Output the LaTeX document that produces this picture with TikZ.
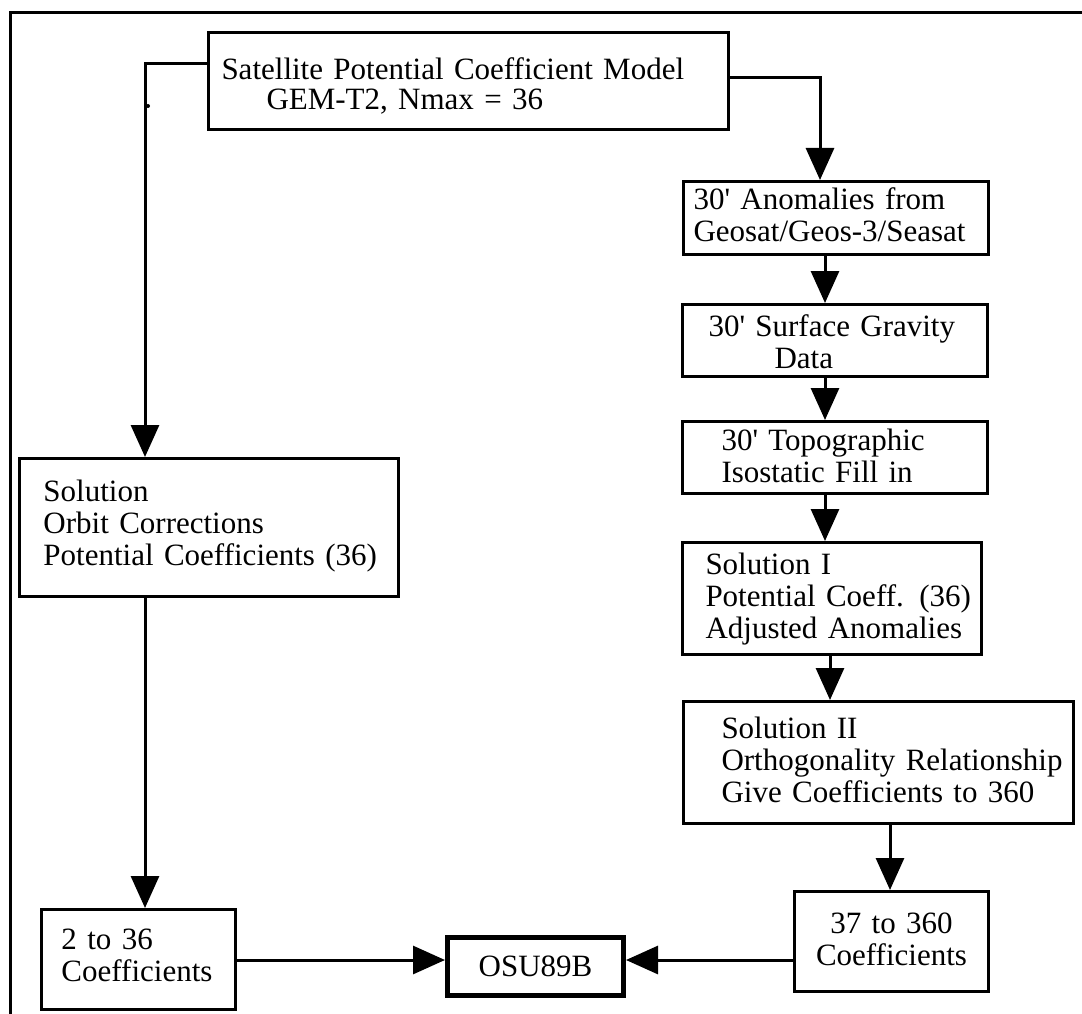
\documentclass[tikz,border=0pt]{standalone}
\usepackage{fontspec}
\setmainfont{Liberation Serif}
\usetikzlibrary{arrows.meta}
\newcommand\blkfont{\fontsize{31pt}{32pt}\selectfont}
\newcommand\topfont{\fontsize{31pt}{30pt}\selectfont}
\newcommand\amin{\textquotesingle}
\begin{document}
\begin{tikzpicture}[x=1pt,y=-1pt,
    blk/.style={draw,line width=3pt,anchor=north west,inner xsep=0pt,inner ysep=0pt,font=\blkfont,align=left},
    txtin/.style={execute at begin node={\leftskip=#1\relax}},
    arr/.style={line width=3pt,-{Triangle[length=32pt,width=28pt]}}]
  \useasboundingbox (0,0) rectangle (1082,1014);
  \draw[line width=3pt] (10,1014) -- (10,13) -- (1082,13);
  \fill (148,106) circle (2pt);
  % columns of the arrows
  \coordinate (colL) at (145,0);
  \coordinate (colT) at (820,0);
  \coordinate (colA) at (825,0);
  \coordinate (colB) at (830,0);
  \coordinate (colC) at (890,0);
  \coordinate (rowB) at (0,960);
  % top model
  \node[blk,font=\topfont,text width=520pt,text height=47pt,text depth=50pt,txtin=13pt] (sat) at (207,31)
    {Satellite Potential Coefficient Model\\\hspace*{45pt}GEM-T2, Nmax = 36};
  % right branch
  \node[blk,text width=305pt,text height=28pt,text depth=45pt,txtin=10pt] (anom) at (682,180)
    {30\amin{} Anomalies from\\Geosat/Geos-3/Seasat};
  \node[blk,text width=305pt,text height=32pt,text depth=40pt,txtin=26pt] (surf) at (681,303)
    {30\amin{} Surface Gravity\\\hspace*{66pt}Data};
  \node[blk,text width=305pt,text height=29pt,text depth=43pt,txtin=39pt] (topo) at (681,420)
    {30\amin{} Topographic\\Isostatic Fill in};
  \node[blk,text width=299pt,text height=32pt,text depth=80pt,txtin=23pt] (solI) at (681,541)
    {Solution I\\Potential Coeff. (36)\\Adjusted Anomalies};
  \node[blk,text width=390pt,text height=37pt,text depth=85pt,txtin=38pt] (solII) at (682,700)
    {Solution II\\Orthogonality Relationship\\Give Coefficients to 360};
  \node[blk,text width=194pt,text height=42pt,text depth=58pt,align=center] (hi) at (793,890)
    {37 to 360\\Coefficients};
  % left branch
  \node[blk,text width=379pt,text height=43pt,text depth=95pt,txtin=24pt] (sol) at (18,457)
    {Solution\\Orbit Corrections\\Potential Coefficients (36)};
  \node[blk,text width=194pt,text height=40pt,text depth=60pt,txtin=20pt] (lo) at (40,908)
    {2 to 36\\Coefficients};
  % result
  \node[blk,line width=5pt,text width=176pt,text height=39pt,text depth=19pt,align=center] (osu) at (445,935)
    {OSU89B};
  \draw[arr] ([yshift=17pt]sat.west) -| (sol.north -| colL);
  \draw[arr] ([yshift=3pt]sat.east) -| (anom.north -| colT);
  \draw[arr] (anom.south -| colA) -- (surf.north -| colA);
  \draw[arr] (surf.south -| colA) -- (topo.north -| colA);
  \draw[arr] (topo.south -| colA) -- (solI.north -| colA);
  \draw[arr] (solI.south -| colB) -- (solII.north -| colB);
  \draw[arr] (solII.south -| colC) -- (hi.north -| colC);
  \draw[arr] (sol.south -| colL) -- (lo.north -| colL);
  \draw[arr] (lo.east |- rowB) -- (osu.west |- rowB);
  \draw[arr] (hi.west |- rowB) -- (osu.east |- rowB);
\end{tikzpicture}
\end{document}
